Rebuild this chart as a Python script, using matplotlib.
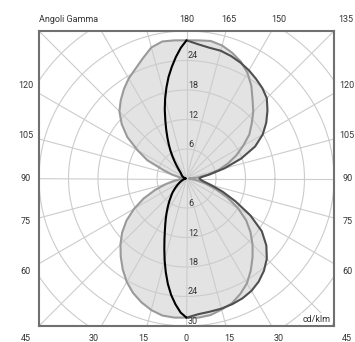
import numpy as np
import matplotlib.pyplot as plt

# gamma angles (deg, 0 = down, 180 = up) and intensities in cd/klm
gamma = np.arange(0, 181, 5)

c0 = [28.3, 27.7, 27.5, 27.4, 27.2, 26.9, 26.4, 25.6, 24.5, 23.1, 21.2, 18.7, 15.0,
      11.0, 7.8, 5.2, 3.6, 2.9, 2.6, 3.0, 4.8, 8.0, 11.8, 15.4, 17.9, 19.8, 21.5,
      23.1, 24.0, 24.7, 25.4, 26.0, 26.5, 26.9, 27.0, 27.4, 28.1]
c90 = [28.3, 28.4, 28.2, 27.6, 27.0, 25.9, 24.6, 22.8, 20.9, 19.0, 17.0, 14.8, 12.1,
       9.2, 6.3, 4.0, 2.2, 1.0, 0.5, 2.2, 4.4, 6.8, 9.0, 11.2, 13.3, 15.6, 17.3,
       19.2, 20.9, 23.0, 24.8, 26.2, 27.2, 28.0, 28.4, 28.2, 28.1]
c270 = [28.3, 28.4, 28.3, 27.7, 26.8, 25.7, 24.3, 22.6, 20.8, 19.0, 17.1, 14.9, 12.3,
        9.6, 6.8, 4.3, 2.4, 1.0, 0.3, 0.7, 1.5, 3.0, 5.0, 8.8, 11.5, 14.7, 17.2,
        19.3, 20.8, 22.2, 23.5, 24.6, 26.0, 27.6, 28.3, 28.2, 28.1]

# C180 read at a finer step near the poles
gamma_c180 = [0, 2.5, 5, 7.5, 10, 12.5, 15, 17.5, 20, 22.5, 25, 27.5, 30, 32.5, 35,
              37.5, 40, 42.5, 45, 50, 55, 60, 65, 70, 75, 80, 85, 90, 95, 100, 105,
              110, 115, 120, 125, 130, 135, 137.5, 140, 142.5, 145, 147.5, 150,
              152.5, 155, 157.5, 160, 162.5, 165, 167.5, 170, 172.5, 175, 177.5, 180]
c180 = [28.3, 27.3, 25.7, 23.9, 21.8, 19.5, 17.2, 15.0, 13.1, 11.5, 10.2, 9.1, 8.1,
        7.2, 6.4, 5.7, 5.0, 4.5, 4.0, 3.0, 2.2, 1.6, 1.1, 0.8, 0.5, 0.3, 0.2, 0.1,
        0.2, 0.3, 0.4, 0.6, 0.8, 1.0, 1.2, 1.4, 1.7, 2.1, 2.6, 3.3, 4.2, 5.3, 6.5,
        7.8, 9.2, 10.8, 12.6, 14.7, 16.8, 18.9, 21.0, 22.9, 24.8, 26.6, 28.1]

ring_values = [6, 12, 18, 24, 30]
side_labels = [120, 105, 90, 75, 60]
top_labels = [180, 165, 150, 135]
bottom_labels = [45, 30, 15, 0, 15, 30, 45]


def to_xy(values, side, angles=gamma):
    g = np.radians(angles)
    r = np.asarray(values)
    return side * r * np.sin(g), -r * np.cos(g)


fig = plt.figure(figsize=(3.55, 3.42), dpi=100)
ax = fig.add_axes([39 / 355, 16 / 342, 295 / 355, 295 / 342])
ax.set_xlim(-30, 30)
ax.set_ylim(-30, 30)
ax.set_xticks([])
ax.set_yticks([])
for s in ax.spines.values():
    s.set_color('#707070')
    s.set_linewidth(1.5)
    s.set_zorder(6)

# fill (union of all planes)
curves = [to_xy(c90, 1), to_xy(c270, -1), to_xy(c0, 1), to_xy(c180, -1, gamma_c180)]
for x, y in curves:
    ax.fill(np.r_[x, 0], np.r_[y, 0], color='#e3e3e3', lw=0, zorder=1)

# grid
t = np.linspace(0, 2 * np.pi, 400)
for r in range(6, 43, 6):
    ax.plot(r * np.cos(t), r * np.sin(t), color='#cccccc', lw=0.8, zorder=2)
for a in range(0, 360, 15):
    ar = np.radians(a)
    ax.plot([0, 45 * np.cos(ar)], [0, 45 * np.sin(ar)], color='#cccccc', lw=0.8, zorder=2)

# curves
line = dict(lw=1.5, solid_joinstyle='round', solid_capstyle='round')
x, y = curves[0]
ax.plot(x, y, color='#9a9a9a', zorder=3, **line)
x, y = curves[1]
ax.plot(x, y, color='#9a9a9a', zorder=3, **line)
x, y = curves[2]
ax.plot(x, y, color='#4f4f4f', zorder=4, **line)
x, y = curves[3]
ax.plot(x, y, color='#000000', zorder=5, **line)

# ring values
tk = dict(fontsize=6.5, color='#333333', family='Roboto', zorder=7)
for r in ring_values:
    if r < 30:
        ax.text(0.3, r, str(r), ha='left', va='bottom', **tk)
    ax.text(0.3, -r, str(r), ha='left', va='bottom', **tk)

# angle labels around the box
L = 32.7
for v in side_labels:
    yy = L * np.tan(np.radians(v - 90))
    ax.text(-L, yy, str(v), ha='center', va='center', clip_on=False, **tk)
    ax.text(L, yy, str(v), ha='center', va='center', clip_on=False, **tk)
for v in top_labels:
    xx = 32.4 * np.tan(np.radians(180 - v))
    ax.text(xx, 32.4, str(v), ha='center', va='center', clip_on=False, **tk)
for i, v in enumerate(bottom_labels):
    sgn = -1 if i < 3 else 1
    xx = sgn * 32.6 * np.tan(np.radians(v))
    ax.text(xx, -32.6, str(v), ha='center', va='center', clip_on=False, **tk)

ax.text(-30, 32.4, 'Angoli Gamma', ha='left', va='center', clip_on=False, **tk)
ax.text(29.3, -29.5, 'cd/klm', ha='right', va='bottom',
        bbox=dict(facecolor='white', edgecolor='none', pad=1.0), **tk)

fig.savefig('out.png', dpi=100)
